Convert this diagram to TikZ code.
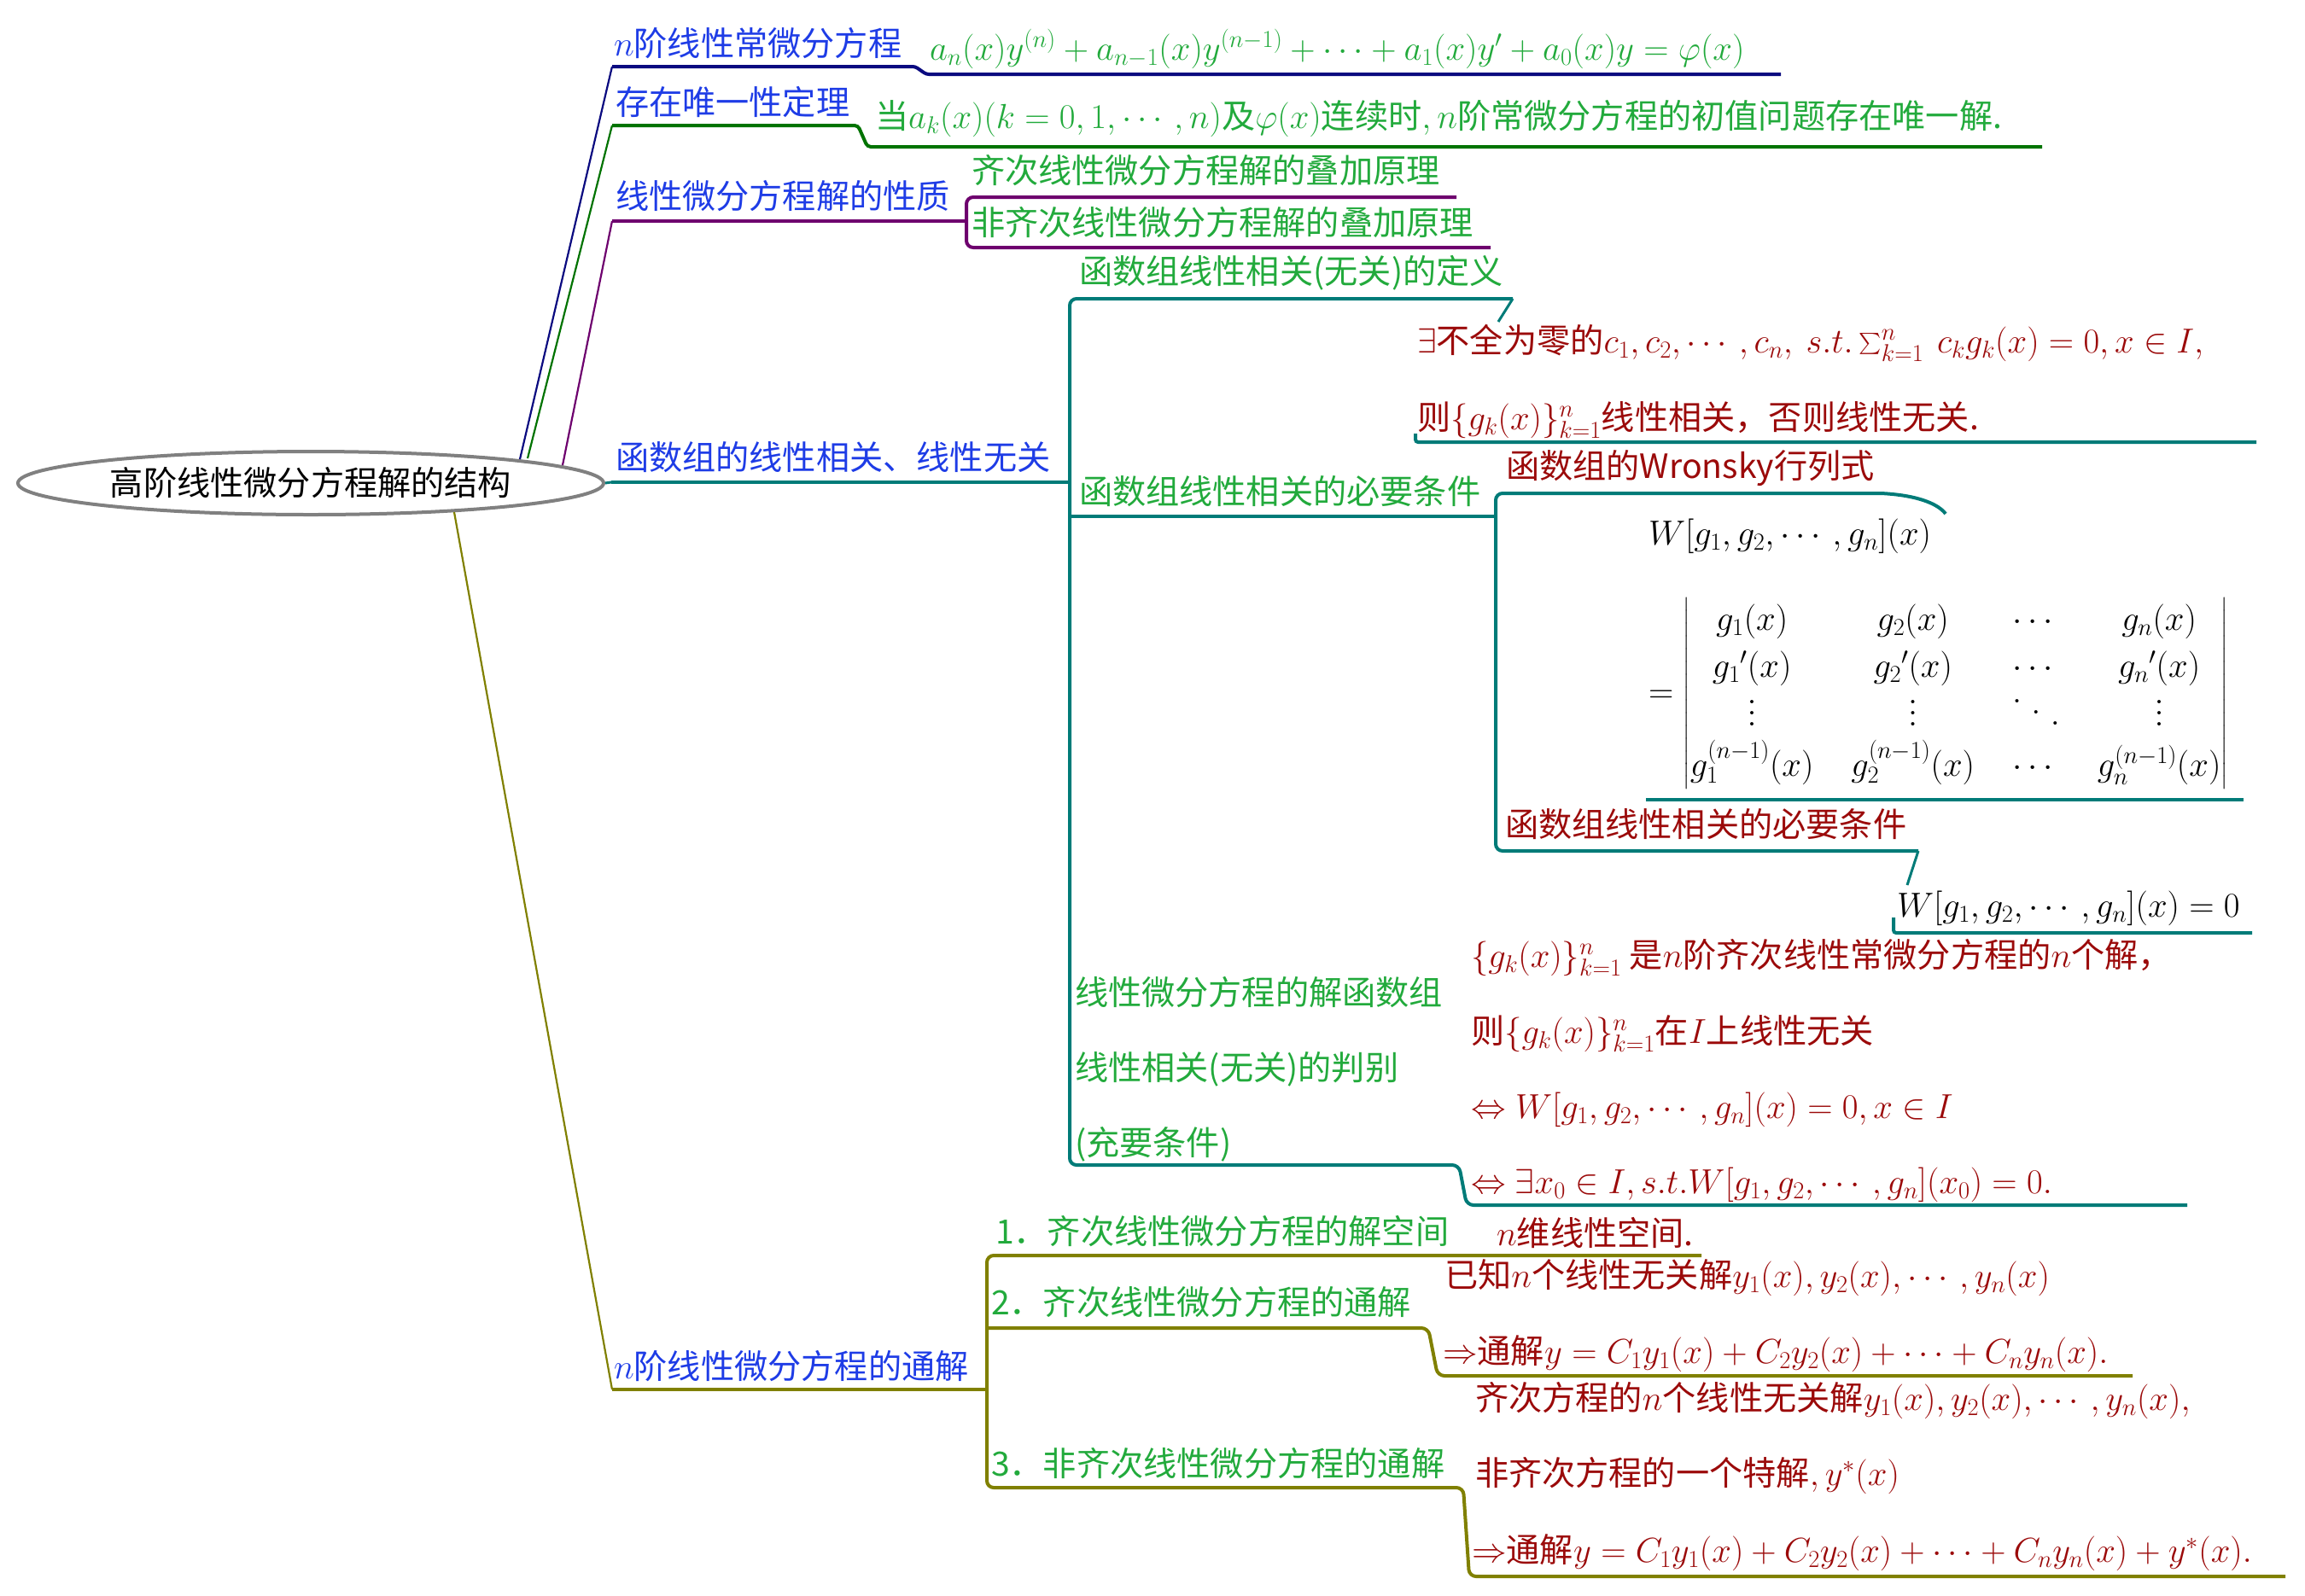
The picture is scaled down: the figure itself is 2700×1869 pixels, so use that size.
\RequirePackage{fix-cm}
\documentclass[tikz,border=0pt]{standalone}
\usepackage{amsmath}
\usepackage[no-math]{fontspec}
\setmainfont[Scale=0.963]{Noto Sans CJK SC}
\usetikzlibrary{shapes.geometric}
\definecolor{cblue}{RGB}{30,60,230}
\definecolor{cgreen}{RGB}{34,170,60}
\definecolor{cred}{RGB}{155,10,10}
\definecolor{cnavy}{RGB}{10,10,128}
\definecolor{cdgreen}{RGB}{0,115,0}
\definecolor{cpurple}{RGB}{110,0,110}
\definecolor{cteal}{RGB}{0,123,120}
\definecolor{colive}{RGB}{128,128,0}
\definecolor{cgray}{RGB}{128,128,128}
\newcommand\fsz{\fontsize{40.7}{46}\selectfont}
\newcommand\bigvdots{\vbox{\baselineskip=13pt\lineskiplimit=0pt\kern10pt\hbox{$.$}\hbox{$.$}\hbox{$.$}}}
\newcommand\bigddots{\mathinner{\raise27pt\hbox{$.$}\mkern5mu\raise14pt\hbox{$.$}\mkern5mu\raise1pt\hbox{$.$}}}
\tikzset{
  lab/.style={anchor=base west, inner sep=0pt, outer sep=0pt, font=\fsz},
  blu/.style={lab, text=cblue},
  grn/.style={lab, text=cgreen},
  red/.style={lab, text=cred},
  hl/.style={line width=4pt, rounded corners=8pt},
  rl/.style={line width=2.2pt},
}
\begin{document}
\begin{tikzpicture}[x=1pt,y=-1pt]
\useasboundingbox (0,0) rectangle (2700,1869);

% root
\node[ellipse, draw=cgray, line width=4pt, minimum width=686pt, minimum height=74pt, inner sep=0pt, font=\fsz, text=black] (root) at (364,566) {高阶线性微分方程解的结构};

% ---------- branch 1
\coordinate (b1s) at (609,538);
\coordinate (b1a) at (717,78);
\coordinate (b1b) at (1072,78);
\coordinate (b1c) at (1085,87);
\coordinate (b1d) at (2086,87);
\draw[cnavy, rl] (b1s) -- (b1a);
\draw[cnavy, hl, rounded corners=3pt] (b1a) -- (b1b) -- (b1c) -- (b1d);
\node[blu] (L1) at (719,65) {$n$阶线性常微分方程};
\node[grn] (F1) at (1089,70) {$a_n(x)y^{(n)}+a_{n-1}(x)y^{(n-1)}+\cdots+a_1(x)y'+a_0(x)y=\varphi(x)$};

% ---------- branch 2
\coordinate (b2s) at (618,537);
\coordinate (b2a) at (717,147);
\coordinate (b2b) at (1005,147);
\coordinate (b2c) at (1016,172);
\coordinate (b2d) at (2392,172);
\draw[cdgreen, rl] (b2s) -- (b2a);
\draw[cdgreen, hl, rounded corners=4pt] (b2a) -- (b2b) -- (b2c) -- (b2d);
\node[blu] (L2) at (721,134) {存在唯一性定理};
\node[grn] (F2) at (1025,150) {当$a_k(x)(k=0,1,\cdots,n)$及$\varphi(x)$连续时$,n$阶常微分方程的初值问题存在唯一解.};

% ---------- branch 3
\coordinate (b3s) at (659,545);
\coordinate (b3a) at (717,259);
\coordinate (b3b) at (1132,259);
\coordinate (b3t) at (1132,231);
\coordinate (b3u) at (1132,290);
\coordinate (b3c) at (1706,231);
\coordinate (b3d) at (1746,290);
\draw[cpurple, rl] (b3s) -- (b3a);
\draw[cpurple, hl] (b3a) -- (b3b);
\draw[cpurple, hl] (b3c) -- (b3t) -- (b3u) -- (b3d);
\node[blu] (L3) at (721,244) {线性微分方程解的性质};
\node[grn] (C31) at (1138,214) {齐次线性微分方程解的叠加原理};
\node[grn] (C32) at (1138,275) {非齐次线性微分方程解的叠加原理};

% ---------- branch 4
\coordinate (b4a) at (716,565);
\coordinate (b4b) at (1253,565);
\coordinate (b4t) at (1253,350);
\coordinate (b4c1) at (1772,350);
\coordinate (b4g1) at (1755,377);
\coordinate (b4u) at (1253,1365);
\coordinate (b4c3) at (1709,1365);
\coordinate (b4c3d) at (1718,1412);
\coordinate (b4g3) at (2562,1412);
\coordinate (b4m) at (1253,605);
\coordinate (b4c2) at (1752,605);
\coordinate (b4s) at (1752,578);
\coordinate (b4s2) at (1752,997);
\coordinate (b4wa) at (2203,578);
\coordinate (b4wb) at (2279,602);
\coordinate (b4na) at (2247,997);
\coordinate (b4nb) at (2234,1037);
\draw[cteal, line width=3pt] (root.east) -- (b4a);
\draw[cteal, hl] (b4a) -- (b4b);
\draw[cteal, hl] (b4c1) -- (b4t) -- (b4u) -- (b4c3) -- (b4c3d) -- (b4g3);
\draw[cteal, hl] (b4m) -- (b4c2);
\draw[cteal, hl] (b4wa) -- (b4s) -- (b4s2) -- (b4na);
\draw[cteal, hl] (b4wa) .. controls (2245,580) and (2270,590) .. (b4wb);
\draw[cteal, line width=3pt] (b4c1) -- (b4g1);
\draw[cteal, line width=3pt] (b4na) -- (b4nb);
% underlines of leaf nodes
\coordinate (u41a) at (1658,508);
\coordinate (u41b) at (1658,518);
\coordinate (u41c) at (2643,518);
\draw[cteal, hl, rounded corners=3pt] (u41a) -- (u41b) -- (u41c);
\coordinate (u42a) at (1928,937);
\coordinate (u42b) at (2628,937);
\draw[cteal, hl] (u42a) -- (u42b);
\coordinate (u43a) at (2218,1075);
\coordinate (u43b) at (2218,1093);
\coordinate (u43c) at (2638,1093);
\draw[cteal, hl, rounded corners=3pt] (u43a) -- (u43b) -- (u43c);

\node[blu] (L4) at (721,550) {函数组的线性相关、线性无关};
\node[grn] (C41) at (1264,332) {函数组线性相关(无关)的定义};
\node[red] (G41a) at (1660,413) {$\exists$不全为零的$c_1,c_2,\cdots,c_n,\ s.t.\sum_{k=1}^n\ c_kg_k(x)=0,x\in I,$};
\node[red] (G41b) at (1660,503) {则$\{g_k(x)\}_{k=1}^n$线性相关，否则线性无关.};
\node[grn] (C42) at (1264,590) {函数组线性相关的必要条件};
\node[red] (G42a) at (1764,560) {函数组的Wronsky行列式};
\node[lab, text=black] (W1) at (1931,638) {$W[g_1,g_2,\cdots,g_n](x)$};
\node[lab, text=black] (W2) at (1931,823) {\arraycolsep=22pt\renewcommand\arraystretch{1.2}$=\begin{vmatrix}
g_1(x) & g_2(x) & \cdots & g_n(x)\\
{g_1}'(x) & {g_2}'(x) & \cdots & {g_n}'(x)\\
\bigvdots & \bigvdots & \bigddots & \bigvdots\\
g_1^{(n-1)}(x) & g_2^{(n-1)}(x) & \cdots & g_n^{(n-1)}(x)
\end{vmatrix}$};
\node[red] (G42b) at (1763,980) {函数组线性相关的必要条件};
\node[lab, text=black] (W3) at (2222,1074) {$W[g_1,g_2,\cdots,g_n](x)=0$};
\node[grn] (C43a) at (1259,1177) {线性微分方程的解函数组};
\node[grn] (C43b) at (1259,1265) {线性相关(无关)的判别};
\node[grn] (C43c) at (1259,1353) {(充要条件)};
\node[red] (G43a) at (1723,1133) {$\{g_k(x)\}_{k=1}^n$ 是$n$阶齐次线性常微分方程的$n$个解，};
\node[red] (G43b) at (1723,1222) {则$\{g_k(x)\}_{k=1}^n$在$I$上线性无关};
\node[red] (G43c) at (1723,1310) {$\Leftrightarrow W[g_1,g_2,\cdots,g_n](x)=0,x\in I$};
\node[red] (G43d) at (1723,1398) {$\Leftrightarrow \exists x_0\in I,s.t.W[g_1,g_2,\cdots,g_n](x_0)=0.$};

% ---------- branch 5
\coordinate (b5s) at (532,600);
\coordinate (b5a) at (717,1628);
\coordinate (b5b) at (1156,1628);
\coordinate (b5t) at (1156,1471);
\coordinate (b5c1) at (1993,1471);
\coordinate (b5u) at (1156,1743);
\coordinate (b5c3) at (1714,1743);
\coordinate (b5c3d) at (1721,1847);
\coordinate (b5g3) at (2677,1847);
\coordinate (b5m) at (1156,1556);
\coordinate (b5c2) at (1673,1556);
\coordinate (b5c2d) at (1684,1612);
\coordinate (b5g2) at (2498,1612);
\draw[colive, rl] (b5s) -- (b5a);
\draw[colive, hl] (b5a) -- (b5b);
\draw[colive, hl] (b5c1) -- (b5t) -- (b5u) -- (b5c3) -- (b5c3d) -- (b5g3);
\draw[colive, hl] (b5m) -- (b5c2) -- (b5c2d) -- (b5g2);
\node[blu] (L5) at (719,1615) {$n$阶线性微分方程的通解};
\node[grn] (C51) at (1166,1457) {1．齐次线性微分方程的解空间};
\node[red] (G51) at (1753,1459) {$n$维线性空间.};
\node[grn] (C52) at (1161,1540) {2．齐次线性微分方程的通解};
\node[red] (G52a) at (1692,1508) {已知$n$个线性无关解$y_1(x),y_2(x),\cdots,y_n(x)$};
\node[red] (G52b) at (1690,1597) {$\Rightarrow$通解$y=C_1y_1(x)+C_2y_2(x)+\cdots+C_ny_n(x).$};
\node[grn] (C53) at (1161,1729) {3．非齐次线性微分方程的通解};
\node[red] (G53a) at (1728,1652) {齐次方程的$n$个线性无关解$y_1(x),y_2(x),\cdots,y_n(x),$};
\node[red] (G53b) at (1728,1740) {非齐次方程的一个特解$,y^*(x)$};
\node[red] (G53c) at (1724,1830) {$\Rightarrow$通解$y=C_1y_1(x)+C_2y_2(x)+\cdots+C_ny_n(x)+y^*(x).$};
\end{tikzpicture}
\end{document}
